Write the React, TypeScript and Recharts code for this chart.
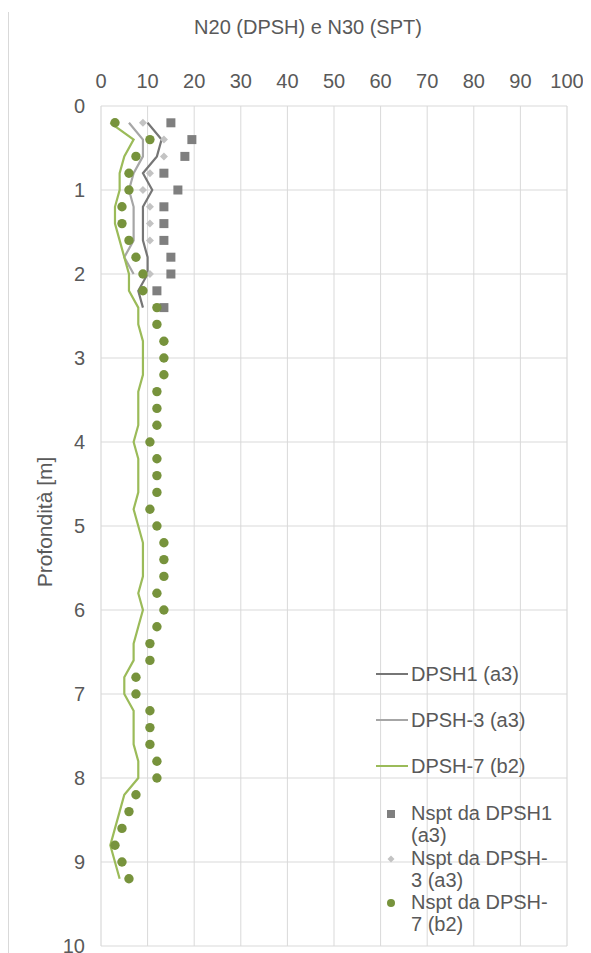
import {
  ScatterChart,
  Scatter,
  XAxis,
  YAxis,
  CartesianGrid,
} from 'recharts';

// depth [m] of each reading
const depthDpsh1 = [0.2, 0.4, 0.6, 0.8, 1.0, 1.2, 1.4, 1.6, 1.8, 2.0, 2.2, 2.4];
const depthDpsh3 = [0.2, 0.4, 0.6, 0.8, 1.0, 1.2, 1.4, 1.6, 1.8, 2.0];
const depthDpsh7 = [
  0.2, 0.4, 0.6, 0.8, 1.0, 1.2, 1.4, 1.6, 1.8, 2.0, 2.2, 2.4, 2.6, 2.8, 3.0, 3.2,
  3.4, 3.6, 3.8, 4.0, 4.2, 4.4, 4.6, 4.8, 5.0, 5.2, 5.4, 5.6, 5.8, 6.0, 6.2, 6.4,
  6.6, 6.8, 7.0, 7.2, 7.4, 7.6, 7.8, 8.0, 8.2, 8.4, 8.6, 8.8, 9.0, 9.2,
];

// N20 (DPSH)
const n20Dpsh1 = [10, 13, 12, 9, 11, 9, 9, 9, 10, 10, 8, 9];
const n20Dpsh3 = [6, 9, 9, 7, 6, 7, 7, 7, 5, 7];
const n20Dpsh7 = [
  2, 7, 5, 4, 4, 3, 3, 4, 5, 6, 6, 8, 8, 9, 9, 9, 8, 8, 8, 7, 8, 8, 8, 7, 8, 9, 9,
  9, 8, 9, 8, 7, 7, 5, 5, 7, 7, 7, 8, 8, 5, 4, 3, 2, 3, 4,
];

// Nspt (N30)
const nsptDpsh1 = [15, 19.5, 18, 13.5, 16.5, 13.5, 13.5, 13.5, 15, 15, 12, 13.5];
const nsptDpsh3 = [9, 13.5, 13.5, 10.5, 9, 10.5, 10.5, 10.5, 7.5, 10.5];
const nsptDpsh7 = [
  3, 10.5, 7.5, 6, 6, 4.5, 4.5, 6, 7.5, 9, 9, 12, 12, 13.5, 13.5, 13.5, 12, 12, 12,
  10.5, 12, 12, 12, 10.5, 12, 13.5, 13.5, 13.5, 12, 13.5, 12, 10.5, 10.5, 7.5, 7.5,
  10.5, 10.5, 10.5, 12, 12, 7.5, 6, 4.5, 3, 4.5, 6,
];

const xTicks = [0, 10, 20, 30, 40, 50, 60, 70, 80, 90, 100];
const xMinorTicks = [5, 15, 25, 35, 45, 55, 65, 75, 85, 95];
const yTicks = [0, 1, 2, 3, 4, 5, 6, 7, 8, 9, 10];

const title = 'N20 (DPSH) e N30 (SPT)';
const yLabel = 'Profondità [m]';

const FONT = '"Liberation Sans", Arial, sans-serif';
const TEXT = '#595959';

const C_DPSH1 = '#767676';
const C_DPSH3 = '#a6a6a6';
const C_DPSH7 = '#9bbb59';
const C_SPT1 = '#7f7f7f';
const C_SPT3 = '#c3c3c3';
const C_SPT7 = '#77933c';

const toPoints = (xs: number[], ys: number[]) => xs.map((x, i) => ({ x, y: ys[i] }));

const NoDot = () => <g />;
const SquareDot = (p: any) => (
  <rect x={p.cx - 4.5} y={p.cy - 4.5} width={9} height={9} fill={C_SPT1} />
);
const DiamondDot = (p: any) => (
  <polygon
    points={`${p.cx},${p.cy - 4} ${p.cx + 4},${p.cy} ${p.cx},${p.cy + 4} ${p.cx - 4},${p.cy}`}
    fill={C_SPT3}
  />
);
const CircleDot = (p: any) => <circle cx={p.cx} cy={p.cy} r={4.7} fill={C_SPT7} />;

const lineItems = [
  { label: 'DPSH1 (a3)', color: C_DPSH1 },
  { label: 'DPSH-3 (a3)', color: C_DPSH3 },
  { label: 'DPSH-7 (b2)', color: C_DPSH7 },
];
const markerItems = [
  { lines: ['Nspt da DPSH1', '(a3)'], kind: 'square', color: C_SPT1 },
  { lines: ['Nspt da DPSH-', '3 (a3)'], kind: 'diamond', color: C_SPT3 },
  { lines: ['Nspt da DPSH-', '7 (b2)'], kind: 'circle', color: C_SPT7 },
];

const LegendMarker = ({ kind, color }: { kind: string; color: string }) => (
  <svg width={32} height={24} style={{ display: 'block' }}>
    {kind === 'square' && <rect x={11} y={8} width={8} height={8} fill={color} />}
    {kind === 'diamond' && <polygon points="15,8.5 18.5,12 15,15.5 11.5,12" fill={color} />}
    {kind === 'circle' && <circle cx={15} cy={12} r={4} fill={color} />}
  </svg>
);

const ChartLegend = () => (
  <div
    style={{
      position: 'absolute',
      left: 368,
      top: 643,
      width: 200,
      fontFamily: FONT,
      fontSize: 20,
      color: TEXT,
      lineHeight: '22px',
    }}
  >
    {lineItems.map((it) => (
      <div key={it.label} style={{ height: 46.2, display: 'flex', alignItems: 'center' }}>
        <svg width={32} height={4} style={{ display: 'block' }}>
          <line x1={0} y1={2} x2={32} y2={2} stroke={it.color} strokeWidth={2} />
        </svg>
        <span style={{ marginLeft: 3, whiteSpace: 'nowrap' }}>{it.label}</span>
      </div>
    ))}
    <div style={{ height: 12.8 }} />
    {markerItems.map((it, i) => (
      <div key={i} style={{ height: 44.5, display: 'flex', alignItems: 'flex-start' }}>
        <LegendMarker kind={it.kind} color={it.color} />
        <div style={{ marginLeft: 3 }}>
          {it.lines.map((l, j) => (
            <div key={j} style={{ whiteSpace: 'nowrap' }}>{l}</div>
          ))}
        </div>
      </div>
    ))}
  </div>
);

export default function App() {
  const W = 583;
  const H = 945;
  return (
    <div style={{ position: 'relative', width: W, height: H, fontFamily: FONT }}>
      <div
        style={{
          position: 'absolute',
          left: 0,
          top: 4,
          bottom: 0,
          borderLeft: '1px solid #d9d9d9',
        }}
      />
      <ScatterChart
        width={W}
        height={H}
        margin={{ top: 58, right: 24, bottom: 7, left: 53 }}
      >
        <XAxis
          xAxisId="minor"
          type="number"
          dataKey="x"
          domain={[0, 100]}
          ticks={xMinorTicks}
          hide
        />
        <CartesianGrid xAxisId="minor" horizontal={false} stroke="#eeeeee" strokeWidth={1} />
        <CartesianGrid stroke="#d9d9d9" strokeWidth={1} />
        <XAxis
          type="number"
          dataKey="x"
          orientation="top"
          domain={[0, 100]}
          ticks={xTicks}
          interval={0}
          height={40}
          axisLine={false}
          tickLine={false}
          tickSize={0}
          tickMargin={18}
          tick={{ fill: TEXT, fontSize: 20, fontFamily: FONT }}
        />
        <YAxis
          type="number"
          dataKey="y"
          reversed
          domain={[0, 10]}
          ticks={yTicks}
          interval={0}
          width={40}
          axisLine={false}
          tickLine={false}
          tickSize={0}
          tickMargin={16}
          tick={{ fill: TEXT, fontSize: 20, fontFamily: FONT }}
        />
        <Scatter
          name="DPSH1 (a3)"
          data={toPoints(n20Dpsh1, depthDpsh1)}
          line={{ stroke: C_DPSH1, strokeWidth: 2.2 }}
          shape={NoDot}
          isAnimationActive={false}
        />
        <Scatter
          name="DPSH-3 (a3)"
          data={toPoints(n20Dpsh3, depthDpsh3)}
          line={{ stroke: C_DPSH3, strokeWidth: 2.2 }}
          shape={NoDot}
          isAnimationActive={false}
        />
        <Scatter
          name="DPSH-7 (b2)"
          data={toPoints(n20Dpsh7, depthDpsh7)}
          line={{ stroke: C_DPSH7, strokeWidth: 2.2 }}
          shape={NoDot}
          isAnimationActive={false}
        />
        <Scatter
          name="Nspt da DPSH1 (a3)"
          data={toPoints(nsptDpsh1, depthDpsh1)}
          shape={SquareDot}
          isAnimationActive={false}
        />
        <Scatter
          name="Nspt da DPSH-3 (a3)"
          data={toPoints(nsptDpsh3, depthDpsh3)}
          shape={DiamondDot}
          isAnimationActive={false}
        />
        <Scatter
          name="Nspt da DPSH-7 (b2)"
          data={toPoints(nsptDpsh7, depthDpsh7)}
          shape={CircleDot}
          isAnimationActive={false}
        />
      </ScatterChart>
      <svg
        width={W}
        height={H}
        style={{ position: 'absolute', left: 0, top: 0, pointerEvents: 'none' }}
      >
        <text x={300} y={26} textAnchor="middle" fill={TEXT} fontSize={20} fontFamily={FONT}>
          {title}
        </text>
        <text
          transform="translate(44, 514) rotate(-90)"
          textAnchor="middle"
          fill={TEXT}
          fontSize={21}
          fontFamily={FONT}
        >
          {yLabel}
        </text>
      </svg>
      <ChartLegend />
    </div>
  );
}
